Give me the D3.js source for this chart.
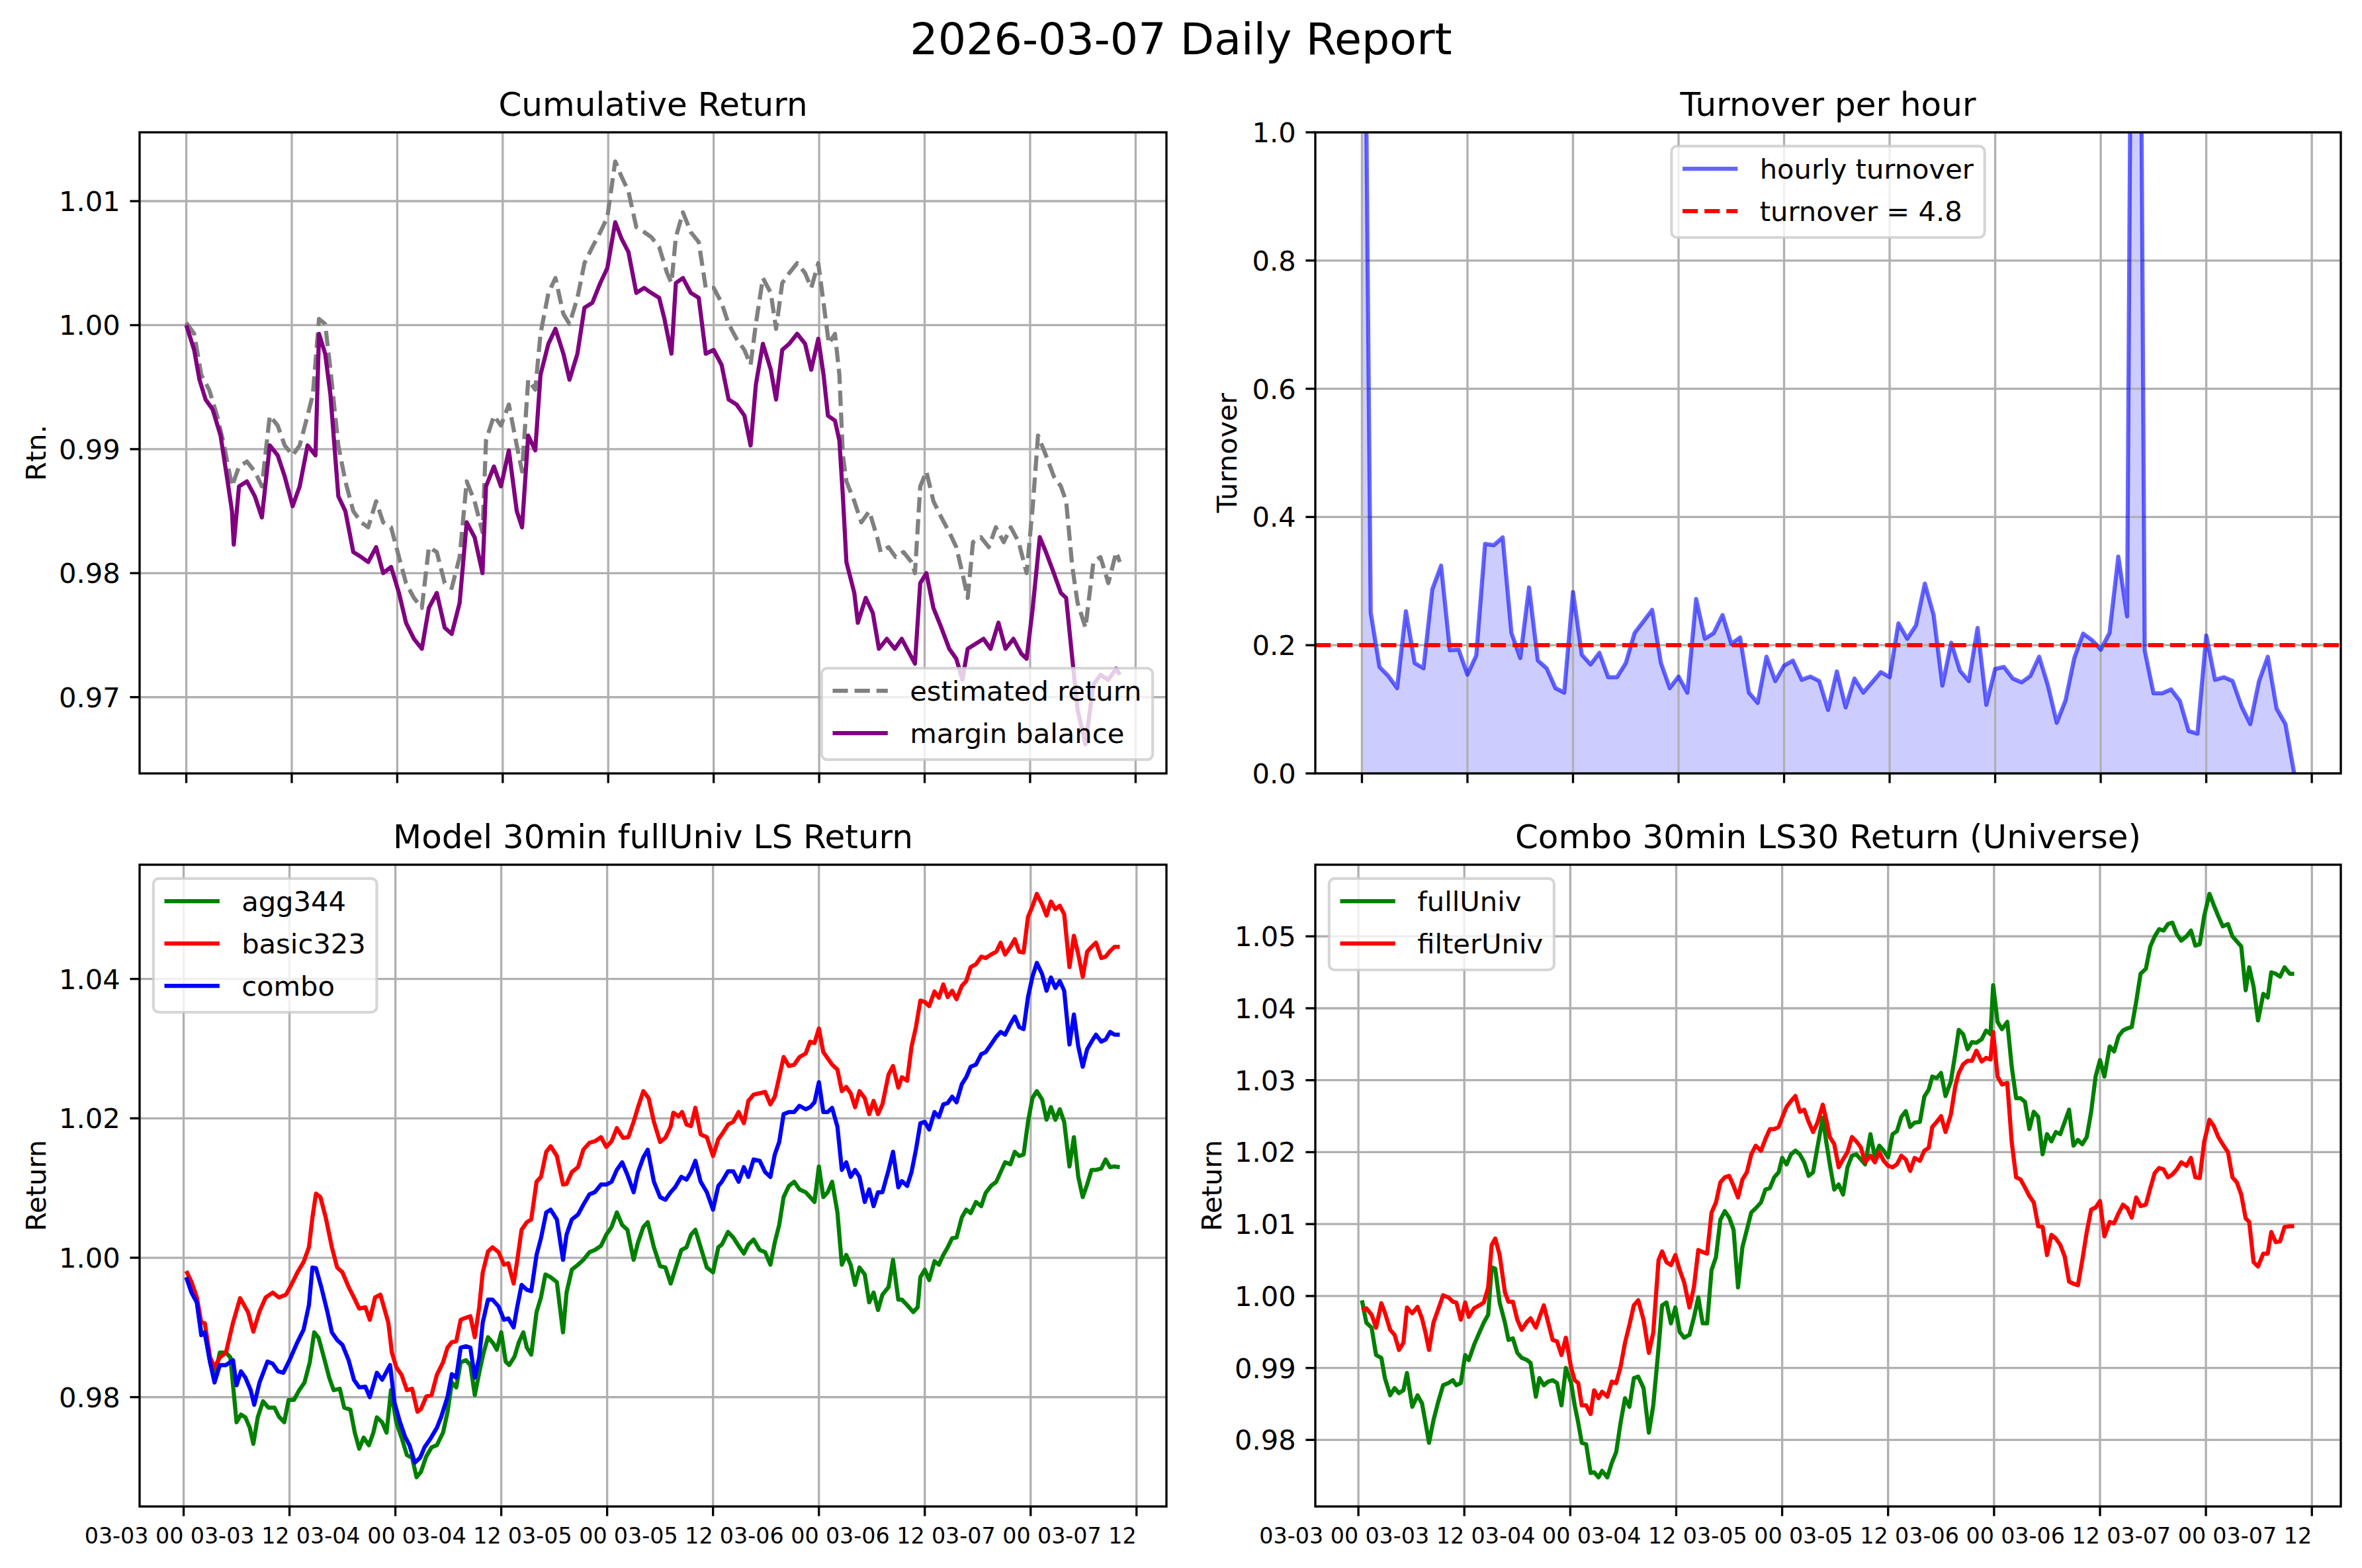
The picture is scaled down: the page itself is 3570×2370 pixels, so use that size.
<!DOCTYPE html>
<html>
  <head>
    <meta charset="utf-8">
    <title>2026-03-07 Daily Report</title>
    <script src="https://d3js.org/d3.v7.min.js"></script>
    <style>
      body { margin: 0; background: #fff; }
      text { font-family: "DejaVu Sans", sans-serif; fill: #000; }
    </style>
  </head>
  <body>
    <svg id="chart"></svg>
    <script>
      // ---------- data (time = hours since startTime) ----------
      const startTime = "2026-03-03 00:00";
      const xTickLabels = ["03-03 00", "03-03 12", "03-04 00", "03-04 12", "03-05 00",
                           "03-05 12", "03-06 00", "03-06 12", "03-07 00", "03-07 12"];

      // cumulative return panel
      const estReturn = [
        [0,1.0002],[0.9,0.9993],[1.7,0.996],[2.6,0.9948],[3.5,0.9927],[4.3,0.9903],[5.2,0.987],[6.0,0.9886],
        [6.9,0.989],[7.8,0.9882],[8.6,0.987],[9.5,0.9927],[10.4,0.9919],[11.2,0.9903],[12.1,0.9895],[12.9,0.9903],
        [13.8,0.9927],[14.4,0.9944],[15.1,1.0005],[15.8,1.0001],[16.4,0.9964],[17.3,0.9903],[18.1,0.9874],[19.0,0.985],
        [19.9,0.9841],[20.7,0.9837],[21.6,0.9858],[22.4,0.9841],[23.3,0.9837],[24.2,0.9813],[25.0,0.9792],[25.9,0.978],
        [26.8,0.9772],[27.6,0.9821],[28.5,0.9817],[29.4,0.9792],[30.2,0.9788],[31.1,0.9813],[31.9,0.9874],[32.8,0.9858],
        [33.7,0.9833],[34.1,0.9907],[35.0,0.9927],[35.8,0.9919],[36.7,0.9936],[37.6,0.9903],[38.2,0.9882],[38.9,0.9956],
        [39.7,0.9948],[40.3,0.9993],[41.2,1.0026],[42.0,1.0038],[42.9,1.0009],[43.6,1.0001],[44.5,1.0022],[45.3,1.005],
        [46.2,1.0063],[47.1,1.0075],[47.9,1.0087],[48.8,1.0132],[49.5,1.012],[50.3,1.0108],[51.2,1.0079],[52.1,1.0075],
        [52.9,1.0071],[53.8,1.0063],[54.7,1.0042],[55.2,1.0034],[55.7,1.0071],[56.5,1.0091],[57.4,1.0075],[58.3,1.0067],
        [59.1,1.003],[60.0,1.003],[60.9,1.0018],[61.7,1.0001],[62.6,0.9989],[63.5,0.998],[64.2,0.9968],[64.8,1.0001],
        [65.6,1.0038],[66.5,1.0026],[67.1,0.9997],[67.8,1.0034],[68.6,1.0042],[69.5,1.005],[70.4,1.0042],[71.1,1.003],
        [71.9,1.005],[72.5,1.0018],[73.1,0.9985],[73.8,0.9993],[74.3,0.996],[74.7,0.9895],[75.1,0.9874],[76.0,0.9858],
        [76.8,0.9841],[77.7,0.985],[78.6,0.9829],[79.0,0.9817],[79.9,0.9821],[80.7,0.9813],[81.6,0.9817],[82.5,0.9809],
        [82.9,0.98],[83.5,0.987],[84.2,0.9882],[85.0,0.9858],[85.9,0.9845],[86.8,0.9833],[87.6,0.9821],[88.3,0.98],
        [88.9,0.978],[89.5,0.9825],[90.4,0.9829],[91.3,0.9821],[92.1,0.9837],[93.0,0.9825],[93.8,0.9837],[94.7,0.9825],
        [95.6,0.98],[96.3,0.9854],[96.9,0.9911],[97.8,0.9895],[98.7,0.9878],[99.5,0.987],[100.1,0.9858],[100.8,0.9805],
        [101.4,0.9776],[102.3,0.9756],[103.2,0.9809],[104.0,0.9813],[104.9,0.9792],[105.8,0.9817],[106.2,0.9809]
      ];
      const marginBalance = [
        [0,1.0],[0.9,0.998],[1.5,0.9956],[2.2,0.994],[3.0,0.9932],[3.9,0.9911],[4.7,0.9874],[5.2,0.985],
        [5.4,0.9823],[6.0,0.987],[6.9,0.9874],[7.8,0.9862],[8.6,0.9845],[9.5,0.9903],[10.4,0.9895],[11.2,0.9878],
        [12.1,0.9854],[12.9,0.987],[13.8,0.9903],[14.7,0.9895],[15.1,0.9993],[15.8,0.9977],[16.4,0.9944],[17.3,0.9862],
        [18.1,0.985],[19.0,0.9817],[19.9,0.9813],[20.7,0.9809],[21.6,0.9821],[22.4,0.98],[23.3,0.9805],[24.2,0.9784],
        [25.0,0.976],[25.9,0.9747],[26.8,0.9739],[27.6,0.9772],[28.5,0.9784],[29.4,0.9756],[30.2,0.9751],[31.1,0.9776],
        [31.9,0.9841],[32.8,0.9829],[33.7,0.98],[34.1,0.987],[35.0,0.9886],[35.8,0.987],[36.7,0.9899],[37.6,0.985],
        [38.2,0.9837],[38.9,0.9911],[39.7,0.9899],[40.3,0.996],[41.2,0.9985],[42.0,0.9997],[42.9,0.9977],[43.6,0.9956],
        [44.5,0.9977],[45.3,1.0014],[46.2,1.0018],[47.1,1.0034],[47.9,1.0046],[48.8,1.0083],[49.5,1.007],[50.3,1.0059],
        [51.2,1.0026],[52.1,1.003],[52.9,1.0026],[53.8,1.0022],[54.4,1.0005],[55.2,0.9977],[55.7,1.0034],[56.5,1.0038],
        [57.4,1.0026],[58.3,1.0022],[59.1,0.9977],[60.0,0.998],[60.9,0.9968],[61.7,0.994],[62.6,0.9936],[63.5,0.9927],
        [64.2,0.9903],[64.8,0.9952],[65.6,0.9985],[66.5,0.9964],[67.1,0.994],[67.8,0.998],[68.6,0.9985],[69.5,0.9993],
        [70.4,0.9985],[71.1,0.9964],[71.9,0.9989],[72.5,0.996],[73.0,0.9927],[73.8,0.9923],[74.3,0.9907],[74.7,0.9862],
        [75.1,0.9809],[76.0,0.9784],[76.4,0.976],[77.3,0.978],[78.1,0.9768],[78.8,0.9739],[79.7,0.9747],[80.6,0.9739],
        [81.4,0.9747],[82.3,0.9735],[82.9,0.9727],[83.5,0.9792],[84.2,0.98],[85.0,0.9772],[85.9,0.9756],[86.8,0.9739],
        [87.6,0.9731],[88.3,0.9714],[88.9,0.9739],[89.8,0.9743],[90.7,0.9747],[91.5,0.9739],[92.4,0.976],[93.2,0.9739],
        [94.1,0.9747],[95.0,0.9735],[95.6,0.9731],[96.3,0.9772],[97.1,0.9829],[97.8,0.9817],[98.7,0.98],[99.5,0.9784],
        [100.1,0.978],[100.8,0.9731],[101.4,0.969],[102.3,0.9662],[103.2,0.971],[104.0,0.9718],[104.9,0.9714],
        [105.8,0.9723],[106.2,0.9718]
      ];

      // turnover panel: one value per hour from startTime
      const hourlyTurnover = [
        1.8, 0.251, 0.166, 0.152, 0.133, 0.253, 0.172, 0.164, 0.287, 0.324,
        0.192, 0.193, 0.154, 0.184, 0.358, 0.356, 0.368, 0.219, 0.180, 0.290,
        0.176, 0.164, 0.133, 0.126, 0.283, 0.185, 0.170, 0.188, 0.150, 0.150,
        0.172, 0.219, 0.237, 0.255, 0.172, 0.133, 0.151, 0.126, 0.272, 0.210,
        0.219, 0.247, 0.202, 0.212, 0.126, 0.110, 0.182, 0.144, 0.168, 0.176,
        0.146, 0.151, 0.144, 0.099, 0.159, 0.103, 0.148, 0.126, 0.142, 0.158,
        0.150, 0.234, 0.210, 0.231, 0.296, 0.247, 0.137, 0.204, 0.160, 0.144,
        0.227, 0.107, 0.163, 0.166, 0.148, 0.142, 0.152, 0.182, 0.137, 0.079,
        0.114, 0.180, 0.218, 0.208, 0.193, 0.219, 0.338, 0.245, 2.5, 0.192,
        0.125, 0.125, 0.131, 0.113, 0.066, 0.062, 0.215, 0.146, 0.150, 0.144,
        0.105, 0.077, 0.144, 0.182, 0.101, 0.077, 0.0
      ];
      const turnoverLine = 0.2;
      const turnoverLabel = "turnover = 4.8";

      // model 30min panel
      const agg344 = [
        [0.3,0.9972],[0.9,0.995],[1.5,0.9936],[2.0,0.9893],[2.4,0.9891],[3.0,0.985],[3.5,0.9828],[4.1,0.9864],
        [4.8,0.9864],[5.3,0.9857],[6.0,0.9764],[6.5,0.9775],[7.0,0.9771],[7.5,0.9756],[7.9,0.9733],[8.4,0.9771],
        [9.0,0.9794],[9.6,0.9785],[10.3,0.9785],[10.8,0.9772],[11.4,0.9764],[11.9,0.9796],[12.5,0.9796],[13.1,0.981],
        [13.7,0.9821],[14.3,0.985],[14.8,0.9893],[15.3,0.9885],[15.9,0.9857],[16.5,0.9828],[17.0,0.981],[17.7,0.9812],
        [18.2,0.9785],[18.9,0.9782],[19.4,0.9749],[19.9,0.9726],[20.4,0.9742],[21.0,0.9731],[21.5,0.9749],[21.9,0.9771],
        [22.5,0.9764],[23.0,0.9749],[23.5,0.981],[24.1,0.9764],[24.7,0.9742],[25.3,0.9717],[25.9,0.9713],[26.4,0.9685],
        [26.9,0.9693],[27.5,0.9715],[28.1,0.9728],[28.7,0.9731],[29.4,0.9749],[29.9,0.9778],[30.4,0.9821],[30.9,0.9814],
        [31.4,0.985],[32.0,0.9853],[32.5,0.9846],[33.0,0.9803],[33.5,0.9835],[34.0,0.9864],[34.5,0.9886],[35.1,0.9877],
        [35.5,0.9868],[36.0,0.9893],[36.5,0.9851],[36.9,0.9846],[37.5,0.9858],[38.0,0.9879],[38.5,0.9893],[38.9,0.9871],
        [39.4,0.9861],[40.0,0.9922],[40.5,0.9943],[41.0,0.9976],[41.6,0.9972],[42.3,0.9965],[43.0,0.9893],[43.4,0.995],
        [44.0,0.9983],[44.7,0.999],[45.3,0.9997],[46.0,1.0008],[46.6,1.0011],[47.3,1.0017],[47.9,1.0033],[48.5,1.0044],
        [49.1,1.0065],[49.7,1.0047],[50.3,1.004],[51.0,0.9997],[51.5,1.0022],[52.1,1.0044],[52.6,1.0051],[53.3,1.0015],
        [54.0,0.9988],[54.6,0.9986],[55.2,0.9963],[55.7,0.9983],[56.4,1.0011],[57.0,1.0015],[57.5,1.0033],[58.0,1.004],
        [58.6,1.0015],[59.3,0.9986],[60.0,0.9979],[60.6,1.0015],[61.0,1.0019],[61.7,1.0037],[62.3,1.0029],[62.9,1.0017],
        [63.5,1.0006],[64.0,1.0019],[64.6,1.0026],[65.3,1.0011],[65.9,1.0008],[66.5,0.999],[67.0,1.0022],[67.5,1.0047],
        [68.0,1.0087],[68.6,1.0103],[69.2,1.0109],[69.8,1.0098],[70.5,1.0094],[71.0,1.0087],[71.5,1.008],[72.0,1.0131],
        [72.5,1.0087],[73.0,1.0094],[73.5,1.0109],[74.1,1.0065],[74.6,0.999],[75.1,1.0004],[75.6,0.999],[76.1,0.9961],
        [76.6,0.9986],[77.2,0.9976],[77.7,0.9936],[78.2,0.995],[78.7,0.9925],[79.2,0.9947],[79.9,0.9958],[80.4,0.9997],
        [81.0,0.994],[81.4,0.994],[82.0,0.9932],[82.7,0.9922],[83.2,0.9929],[83.5,0.9972],[84.0,0.9983],[84.5,0.9968],
        [85.1,0.9995],[85.6,0.999],[86.1,1.0004],[86.6,1.0015],[87.1,1.0028],[87.6,1.0029],[88.2,1.0058],[88.7,1.0069],
        [89.2,1.0064],[89.8,1.008],[90.4,1.0074],[90.9,1.0093],[91.5,1.0103],[92.1,1.0109],[92.6,1.0123],[93.1,1.0137],
        [93.7,1.0134],[94.2,1.0152],[94.7,1.0146],[95.2,1.0148],[95.7,1.0195],[96.2,1.0229],[96.7,1.0239],[97.3,1.0227],
        [97.8,1.0198],[98.3,1.0216],[98.8,1.0198],[99.3,1.0213],[99.8,1.0195],[100.4,1.0131],[100.9,1.0173],[101.4,1.0116],
        [101.9,1.0087],[102.4,1.0105],[102.9,1.0126],[103.4,1.0126],[104.0,1.0128],[104.5,1.0141],[105.0,1.013],
        [105.5,1.0131],[106.1,1.013]
      ];
      const basic323 = [
        [0.3,0.9981],[0.9,0.9965],[1.5,0.9943],[2.0,0.9907],[2.4,0.9906],[3.0,0.9857],[3.5,0.9843],[4.1,0.9857],
        [4.8,0.9864],[5.6,0.9907],[6.4,0.9942],[7.3,0.9922],[7.9,0.9894],[8.6,0.9923],[9.3,0.9943],[10.1,0.995],
        [10.8,0.9943],[11.6,0.9947],[12.2,0.9961],[12.9,0.9979],[13.6,0.9994],[14.2,1.0015],[14.6,1.0058],[15.0,1.0092],
        [15.5,1.0087],[16.1,1.0058],[16.8,1.0015],[17.4,0.9986],[18.0,0.9979],[18.7,0.9958],[19.3,0.9943],[19.9,0.9927],
        [20.6,0.9929],[21.1,0.9911],[21.7,0.9943],[22.3,0.9947],[23.2,0.9907],[23.6,0.9864],[24.1,0.9843],[24.7,0.9832],
        [25.3,0.981],[25.9,0.9812],[26.5,0.9779],[26.9,0.9783],[27.5,0.9801],[28.1,0.9803],[28.7,0.9832],[29.4,0.985],
        [29.9,0.9871],[30.4,0.9879],[30.9,0.988],[31.4,0.9911],[32.0,0.9914],[32.5,0.9916],[33.0,0.9886],[33.5,0.9929],
        [33.9,0.9979],[34.5,1.0009],[35.0,1.0015],[35.7,1.0008],[36.3,0.999],[36.8,0.9992],[37.4,0.9963],[37.8,0.9995],
        [38.3,1.004],[38.9,1.0051],[39.4,1.0055],[40.0,1.0109],[40.5,1.0116],[41.1,1.0152],[41.6,1.016],[42.3,1.0146],
        [43.0,1.0105],[43.4,1.0106],[44.0,1.0123],[44.7,1.013],[45.3,1.0155],[46.0,1.0165],[46.6,1.0167],[47.3,1.0173],
        [47.9,1.0159],[48.5,1.0167],[49.1,1.0186],[49.8,1.0172],[50.4,1.0173],[51.0,1.0195],[51.5,1.0216],[52.1,1.0239],
        [52.7,1.0229],[53.3,1.0195],[54.0,1.0166],[54.6,1.0172],[55.2,1.0188],[55.5,1.0208],[56.1,1.0203],[56.5,1.0209],
        [57.0,1.0191],[57.5,1.0189],[58.0,1.0215],[58.6,1.0177],[59.3,1.0173],[60.0,1.0146],[60.6,1.017],[61.0,1.0177],
        [61.7,1.0191],[62.3,1.0195],[62.9,1.0209],[63.5,1.0193],[64.0,1.0225],[64.6,1.0234],[65.3,1.0236],[65.9,1.0238],
        [66.5,1.022],[67.0,1.0231],[67.5,1.0259],[68.0,1.0288],[68.6,1.0275],[69.2,1.0277],[69.8,1.0288],[70.5,1.0293],
        [71.0,1.031],[71.5,1.0308],[72.0,1.0329],[72.5,1.0295],[73.0,1.0286],[73.5,1.0277],[74.1,1.027],[74.6,1.0239],
        [75.1,1.0245],[75.6,1.0236],[76.1,1.0216],[76.6,1.0239],[77.2,1.0229],[77.7,1.0206],[78.2,1.0225],[78.7,1.0206],
        [79.2,1.022],[79.9,1.0263],[80.4,1.0275],[81.0,1.0244],[81.4,1.0259],[82.0,1.0254],[82.5,1.0303],[83.0,1.0331],
        [83.5,1.0369],[84.0,1.0367],[84.5,1.0361],[85.1,1.0382],[85.6,1.0373],[86.1,1.0392],[86.6,1.0374],[87.1,1.0383],
        [87.6,1.0371],[88.2,1.039],[88.7,1.0397],[89.2,1.0417],[89.8,1.0421],[90.4,1.0432],[90.9,1.043],[91.5,1.0435],
        [92.1,1.0439],[92.6,1.0452],[93.1,1.0435],[93.7,1.0446],[94.2,1.0457],[94.7,1.0439],[95.2,1.0438],[95.7,1.0489],
        [96.2,1.0504],[96.7,1.0522],[97.3,1.0507],[97.8,1.0491],[98.3,1.0511],[98.8,1.05],[99.3,1.0505],[99.8,1.0493],
        [100.4,1.0417],[100.9,1.0462],[101.4,1.0435],[101.9,1.0403],[102.4,1.0439],[102.9,1.0446],[103.4,1.0452],
        [104.0,1.043],[104.5,1.0432],[105.0,1.044],[105.5,1.0446],[106.1,1.0446]
      ];
      const combo = [
        [0.3,0.9972],[0.9,0.995],[1.5,0.9936],[2.0,0.9889],[2.4,0.9893],[3.0,0.985],[3.5,0.9821],[4.1,0.9846],
        [4.8,0.9846],[5.6,0.9853],[6.0,0.9817],[6.5,0.9837],[7.0,0.9828],[7.6,0.981],[8.0,0.9789],[8.6,0.9821],
        [9.5,0.9851],[10.1,0.9848],[10.7,0.9837],[11.3,0.9835],[12.0,0.9853],[12.9,0.9879],[13.6,0.9897],[14.2,0.9932],
        [14.6,0.9986],[15.0,0.9985],[15.6,0.9958],[16.3,0.9922],[16.8,0.9893],[17.4,0.9882],[18.0,0.9875],[18.7,0.9853],
        [19.3,0.9825],[19.9,0.9814],[20.6,0.9815],[21.1,0.98],[21.9,0.9835],[22.5,0.9825],[23.4,0.9846],[23.9,0.9792],
        [24.5,0.9765],[25.1,0.9743],[25.6,0.9731],[26.2,0.9706],[26.8,0.9713],[27.3,0.9728],[28.0,0.9741],[28.7,0.9756],
        [29.2,0.9772],[29.9,0.98],[30.4,0.9833],[30.9,0.9828],[31.4,0.9871],[32.0,0.9873],[32.5,0.9871],[33.0,0.9828],
        [33.5,0.9857],[33.9,0.9907],[34.5,0.994],[35.0,0.994],[35.7,0.993],[36.3,0.9911],[36.8,0.9913],[37.4,0.99],
        [37.8,0.9929],[38.3,0.9961],[38.9,0.9954],[39.4,0.9952],[40.0,1.0004],[40.5,1.0028],[41.1,1.0065],[41.6,1.0069],
        [42.3,1.0055],[43.0,0.9997],[43.4,1.0033],[44.0,1.0055],[44.7,1.0062],[45.3,1.0076],[46.0,1.0091],[46.6,1.0094],
        [47.3,1.0105],[47.9,1.0105],[48.5,1.0109],[49.1,1.0126],[49.7,1.0137],[50.3,1.0119],[51.0,1.0094],[51.5,1.0123],
        [52.1,1.0144],[52.6,1.0155],[53.3,1.0109],[54.0,1.0087],[54.6,1.0083],[55.2,1.0094],[55.7,1.0101],[56.4,1.0116],
        [57.0,1.0112],[57.5,1.0123],[58.0,1.0139],[58.6,1.0109],[59.3,1.0094],[60.0,1.0069],[60.6,1.0103],[61.0,1.0109],
        [61.7,1.0124],[62.3,1.0124],[62.9,1.0109],[63.5,1.013],[64.0,1.0116],[64.6,1.0141],[65.3,1.0139],[65.9,1.0123],
        [66.5,1.0116],[67.0,1.0148],[67.5,1.0166],[68.0,1.0206],[68.6,1.0209],[69.2,1.0209],[69.8,1.0218],[70.5,1.0213],
        [71.0,1.0216],[71.5,1.0223],[72.0,1.0252],[72.5,1.0209],[73.0,1.0209],[73.5,1.0215],[74.1,1.0188],[74.6,1.0126],
        [75.1,1.0137],[75.6,1.0116],[76.1,1.0126],[76.6,1.0116],[77.2,1.008],[77.7,1.0098],[78.2,1.0074],[78.7,1.0094],
        [79.2,1.0094],[79.9,1.0126],[80.4,1.0152],[81.0,1.0101],[81.4,1.011],[82.0,1.0103],[82.5,1.0123],[83.0,1.0155],
        [83.5,1.0193],[84.0,1.0195],[84.5,1.0184],[85.1,1.0209],[85.6,1.0202],[86.1,1.022],[86.6,1.0222],[87.1,1.0231],
        [87.6,1.0223],[88.2,1.0249],[88.7,1.0259],[89.2,1.0274],[89.8,1.0277],[90.4,1.0292],[90.9,1.0295],[91.5,1.0306],
        [92.1,1.0317],[92.6,1.0324],[93.1,1.032],[93.7,1.0335],[94.2,1.0346],[94.7,1.0331],[95.2,1.0328],[95.7,1.0374],
        [96.2,1.0403],[96.7,1.0423],[97.3,1.0407],[97.8,1.0383],[98.3,1.0402],[98.8,1.0387],[99.3,1.0397],[99.8,1.0383],
        [100.4,1.0306],[100.9,1.0349],[101.4,1.0303],[101.9,1.0274],[102.4,1.0299],[102.9,1.031],[103.4,1.032],
        [104.0,1.031],[104.5,1.0313],[105.0,1.0324],[105.5,1.032],[106.1,1.032]
      ];

      // universe panel: shared times, then one value per time for each series
      const univHours = [
        0.4,0.9,1.5,2.0,2.6,3.0,3.6,4.1,4.6,5.1,5.5,6.1,6.7,7.2,7.6,8.0,8.5,9.0,9.6,10.2,
        10.7,11.1,11.6,12.1,12.5,13.1,13.7,14.2,14.7,15.1,15.5,16.0,16.6,17.0,17.5,18.0,18.5,19.1,19.5,20.1,
        20.5,21.0,21.5,22.0,22.5,23.0,23.5,24.1,24.5,24.9,25.3,25.8,26.3,26.7,27.2,27.6,28.2,28.7,29.2,29.7,
        30.2,30.7,31.2,31.7,32.3,32.9,33.4,34.0,34.4,34.9,35.4,35.9,36.4,36.9,37.5,38.0,38.5,39.0,39.5,40.0,
        40.5,41.0,41.5,42.0,42.5,43.0,43.5,44.0,44.5,45.0,45.6,46.1,46.6,47.1,47.6,48.0,48.5,49.0,49.5,50.0,
        50.5,51.0,51.5,52.0,52.6,53.0,53.4,53.9,54.4,54.9,55.4,55.9,56.4,56.9,57.4,58.0,58.5,59.0,59.5,60.0,
        60.5,61.0,61.5,62.0,62.5,63.0,63.6,64.1,64.6,65.0,65.5,66.0,66.5,67.1,67.6,68.0,68.5,69.0,69.5,70.0,
        70.6,71.1,71.6,71.9,72.4,72.9,73.5,74.0,74.5,75.0,75.5,76.0,76.5,77.0,77.5,78.0,78.5,79.0,79.5,80.0,
        80.5,81.0,81.5,82.0,82.5,83.0,83.5,84.0,84.5,85.1,85.6,86.1,86.6,87.1,87.6,88.1,88.6,89.2,89.7,90.2,
        90.7,91.2,91.7,92.2,92.7,93.2,93.8,94.3,94.8,95.3,95.8,96.4,96.9,97.4,97.9,98.5,99.0,99.5,100.0,100.5,
        100.9,101.4,101.9,102.5,103.0,103.4,103.9,104.4,104.9,105.5,106.0
      ];
      const fullUniv = [
        0.9994,0.9963,0.9956,0.9918,0.9914,0.9886,0.9862,0.9872,0.9865,0.9869,0.9893,0.9846,0.9862,0.9851,0.9824,0.9796,0.9827,0.9851,0.9876,0.9879,
        0.9883,0.9876,0.9879,0.9918,0.9911,0.9932,0.9949,0.9963,0.9974,1.004,1.0038,0.9991,0.9963,0.9939,0.9941,0.9921,0.9914,0.9911,0.9907,0.986,
        0.9886,0.9876,0.9881,0.9883,0.9879,0.9848,0.99,0.9879,0.9848,0.9824,0.9796,0.9794,0.9754,0.9755,0.9748,0.9757,0.9748,0.9768,0.9783,0.9824,
        0.9858,0.9846,0.9886,0.9888,0.9872,0.981,0.9848,0.9928,0.9987,0.9991,0.9962,0.9984,0.995,0.9942,0.9946,0.997,0.9998,0.9962,0.9962,1.0036,
        1.0054,1.0106,1.0118,1.0109,1.0092,1.0012,1.0068,1.0092,1.0116,1.0122,1.013,1.0148,1.015,1.0165,1.0172,1.0192,1.0183,1.0197,1.0202,1.0197,
        1.0186,1.0167,1.0172,1.0207,1.0248,1.0214,1.0183,1.0148,1.0155,1.0141,1.0179,1.0195,1.0197,1.019,1.0183,1.0225,1.0193,1.0209,1.0202,1.0193,
        1.0225,1.0229,1.0249,1.0257,1.0235,1.0241,1.0242,1.0277,1.0287,1.0305,1.0303,1.031,1.0278,1.0298,1.0336,1.037,1.0364,1.0343,1.0353,1.0352,
        1.0357,1.0369,1.0364,1.0432,1.0381,1.0371,1.0381,1.0319,1.0275,1.0275,1.027,1.0232,1.0256,1.0249,1.0197,1.0225,1.0215,1.0228,1.0225,1.0242,
        1.0259,1.0209,1.0217,1.0211,1.0221,1.0256,1.0305,1.0328,1.0305,1.0347,1.034,1.0361,1.0369,1.0372,1.0374,1.0409,1.0448,1.0455,1.0486,1.05,
        1.051,1.0508,1.0517,1.0519,1.0503,1.0494,1.05,1.0508,1.0487,1.0489,1.0528,1.0559,1.0543,1.0528,1.0514,1.0517,1.05,1.0493,1.0486,1.0425,
        1.0457,1.043,1.0383,1.042,1.0415,1.045,1.0448,1.0444,1.0457,1.0448,1.0448
      ];
      const filterUniv = [
        0.998,0.9983,0.9974,0.9956,0.999,0.9977,0.9953,0.9946,0.9925,0.9935,0.9984,0.9976,0.9985,0.9969,0.9949,0.9925,0.9963,0.998,1.0001,0.9998,
        0.9992,0.9991,0.9967,0.9991,0.9971,0.9983,0.9987,0.9991,1.0012,1.0071,1.008,1.0057,1.0005,0.9992,0.9992,0.9967,0.9953,0.9964,0.9969,0.9956,
        0.997,0.9987,0.9963,0.9939,0.9937,0.9918,0.9942,0.99,0.9883,0.9879,0.9848,0.9848,0.9836,0.9869,0.9858,0.9867,0.986,0.9881,0.9879,0.9902,
        0.9935,0.996,0.9987,0.9994,0.9967,0.9921,0.9949,1.005,1.0062,1.0047,1.0043,1.0057,1.0036,1.0019,0.9984,1.0012,1.0064,1.0061,1.0059,1.0116,
        1.013,1.0158,1.0165,1.0167,1.0153,1.0137,1.0162,1.0172,1.0197,1.0209,1.0202,1.0218,1.0232,1.0232,1.0235,1.0248,1.0263,1.0271,1.0278,1.0256,
        1.0259,1.0242,1.0228,1.0241,1.0266,1.0245,1.0221,1.0211,1.0179,1.019,1.02,1.0221,1.0215,1.0207,1.0186,1.0195,1.0186,1.02,1.0188,1.0181,
        1.0179,1.0183,1.0195,1.019,1.0174,1.0192,1.0188,1.0202,1.0206,1.0235,1.0242,1.025,1.0228,1.0252,1.0291,1.031,1.0322,1.0327,1.0327,1.0341,
        1.0326,1.0331,1.0329,1.0367,1.0305,1.0294,1.0296,1.0214,1.0165,1.0162,1.0151,1.0139,1.013,1.0097,1.0096,1.0057,1.0085,1.008,1.0071,1.0055,
        1.002,1.0017,1.0015,1.005,1.0089,1.012,1.0123,1.0132,1.0083,1.0103,1.0101,1.0115,1.0127,1.0122,1.0109,1.0137,1.0125,1.0127,1.015,1.0171,
        1.0178,1.0176,1.0165,1.0169,1.0176,1.0186,1.0181,1.0192,1.0165,1.0164,1.0214,1.0245,1.0236,1.0221,1.0211,1.02,1.0165,1.0158,1.0141,1.0108,
        1.0103,1.0047,1.0041,1.0059,1.0059,1.0089,1.0075,1.0076,1.0096,1.0097,1.0097
      ];

      const tlYTicks = [0.97, 0.98, 0.99, 1.00, 1.01];
      const trYTicks = [0.0, 0.2, 0.4, 0.6, 0.8, 1.0];
      const blYTicks = [0.98, 1.00, 1.02, 1.04];
      const brYTicks = [0.98, 0.99, 1.00, 1.01, 1.02, 1.03, 1.04, 1.05];

      // ---------- drawing ----------
      const W = 3570, H = 2370, PT = 300 / 72;
      const FS = 10 * PT, LW = 1.5 * PT, SPINE = 0.8 * PT, TICK = 3.5 * PT;
      const DASH = [3.7 * LW, 1.6 * LW].join(",");

      const svg = d3.select("#chart").attr("width", W).attr("height", H);
      svg.append("rect").attr("width", W).attr("height", H).attr("fill", "#fff");

      const t0 = d3.timeParse("%Y-%m-%d %H:%M")(startTime);
      const toDate = h => new Date(t0.getTime() + h * 36e5);
      const tickDates = xTickLabels.map(s => d3.timeParse("%Y-%m-%d %H")("2026-" + s));
      const padded = ext => { const s = ext[1] - ext[0]; return [ext[0] - 0.05 * s, ext[1] + 0.05 * s]; };

      function legend(g, items, loc, box) {
        const pad = 0.4 * FS, hl = 2 * FS, htp = 0.8 * FS, ax = 0.5 * FS;
        const lg = g.append("g");
        const frame = lg.append("rect");
        const labels = items.map(it => lg.append("text").attr("font-size", FS).text(it.label));
        const tw = d3.max(labels, t => t.node().getComputedTextLength());
        const w = 2 * pad + hl + htp + tw;
        const h = 1.78 * FS + (items.length - 1) * 1.536 * FS;
        let lx, ly;
        if (loc === "upper left") { lx = box.x0 + ax; ly = box.y0 + ax; }
        else if (loc === "upper center") { lx = box.x0 + box.w / 2 - w / 2; ly = box.y0 + ax; }
        else { lx = box.x0 + box.w - ax - w; ly = box.y0 + box.h - ax - h; }
        frame.attr("x", lx).attr("y", ly).attr("width", w).attr("height", h)
          .attr("rx", 0.2 * FS).attr("fill", "#fff").attr("fill-opacity", 0.8)
          .attr("stroke", "#cccccc").attr("stroke-opacity", 0.8).attr("stroke-width", PT);
        items.forEach((it, i) => {
          const cy = ly + 0.82 * FS + i * 1.536 * FS;
          lg.append("line").attr("x1", lx + pad).attr("x2", lx + pad + hl)
            .attr("y1", cy).attr("y2", cy)
            .attr("stroke", it.color).attr("stroke-opacity", it.opacity || 1)
            .attr("stroke-width", LW).attr("stroke-dasharray", it.dash ? DASH : null);
          labels[i].attr("x", lx + pad + hl + htp).attr("y", cy).attr("dy", "0.36em");
        });
      }

      function panel(cfg) {
        const box = cfg.box;
        const { x0, y0, w, h } = box;
        const g = svg.append("g");
        const allT = cfg.series.flatMap(s => s.data.map(d => d[0]));
        const allV = cfg.series.flatMap(s => s.data.map(d => d[1]));
        const xs = d3.scaleTime().domain(padded(d3.extent(allT)).map(toDate)).range([x0, x0 + w]);
        const ys = d3.scaleLinear().domain(cfg.yDomain || padded(d3.extent(allV))).range([y0 + h, y0]);
        const clipId = "clip" + cfg.id;
        g.append("clipPath").attr("id", clipId).append("rect")
          .attr("x", x0).attr("y", y0).attr("width", w).attr("height", h);
        const plot = g.append("g").attr("clip-path", `url(#${clipId})`);

        // fills first (below grid)
        cfg.series.filter(s => s.fill).forEach(s => {
          plot.append("path").datum(s.data)
            .attr("d", d3.area().x(d => xs(toDate(d[0]))).y0(ys(0)).y1(d => ys(d[1])))
            .attr("fill", s.fill).attr("fill-opacity", 0.2);
        });

        // grid
        const xt = tickDates.filter(d => d >= xs.domain()[0] && d <= xs.domain()[1]);
        const yd = ys.domain();
        const yt = cfg.yTicks.filter(v => v >= Math.min(...yd) - 1e-9 && v <= Math.max(...yd) + 1e-9);
        const grid = plot.append("g").attr("stroke", "#b0b0b0").attr("stroke-width", SPINE);
        xt.forEach(d => grid.append("line").attr("x1", xs(d)).attr("x2", xs(d)).attr("y1", y0).attr("y2", y0 + h));
        yt.forEach(v => grid.append("line").attr("y1", ys(v)).attr("y2", ys(v)).attr("x1", x0).attr("x2", x0 + w));

        // lines
        const line = d3.line().x(d => xs(toDate(d[0]))).y(d => ys(d[1]));
        cfg.series.forEach(s => {
          plot.append("path").datum(s.data).attr("d", line)
            .attr("fill", "none").attr("stroke", s.color).attr("stroke-opacity", s.opacity || 1)
            .attr("stroke-width", LW).attr("stroke-linejoin", "round")
            .attr("stroke-dasharray", s.dash ? DASH : null);
        });
        if (cfg.hline) {
          plot.append("line").attr("x1", x0).attr("x2", x0 + w)
            .attr("y1", ys(cfg.hline.value)).attr("y2", ys(cfg.hline.value))
            .attr("stroke", cfg.hline.color).attr("stroke-width", LW).attr("stroke-dasharray", DASH);
        }

        // spines and ticks
        g.append("rect").attr("x", x0).attr("y", y0).attr("width", w).attr("height", h)
          .attr("fill", "none").attr("stroke", "#000").attr("stroke-width", SPINE);
        xt.forEach(d => {
          g.append("line").attr("x1", xs(d)).attr("x2", xs(d)).attr("y1", y0 + h).attr("y2", y0 + h + TICK)
            .attr("stroke", "#000").attr("stroke-width", SPINE);
          if (cfg.xLabels) {
            // labels sit to the left of their tick (right-aligned)
            g.append("text").attr("x", xs(d)).attr("y", y0 + h + 56).attr("text-anchor", "end")
              .attr("font-size", 8 * PT).text(d3.timeFormat("%m-%d %H")(d));
          }
        });
        yt.forEach(v => {
          g.append("line").attr("x1", x0 - TICK).attr("x2", x0).attr("y1", ys(v)).attr("y2", ys(v))
            .attr("stroke", "#000").attr("stroke-width", SPINE);
          g.append("text").attr("x", x0 - 2 * TICK).attr("y", ys(v)).attr("dy", "0.36em")
            .attr("text-anchor", "end").attr("font-size", FS).text(d3.format(cfg.yFormat)(v));
        });

        // labels
        g.append("text").attr("x", x0 + w / 2).attr("y", y0 - 6 * PT).attr("text-anchor", "middle")
          .attr("font-size", 12 * PT).text(cfg.title);
        g.append("text").attr("transform", `translate(${x0 - cfg.ylabelOff},${y0 + h / 2}) rotate(-90)`)
          .attr("text-anchor", "middle").attr("font-size", FS).text(cfg.ylabel);

        legend(g, cfg.legendItems || cfg.series, cfg.legendLoc, box);
      }

      svg.append("text").attr("x", W / 2).attr("y", 82).attr("text-anchor", "middle")
        .attr("font-size", 16 * PT).text("2026-03-07 Daily Report");

      panel({
        id: "tl", box: { x0: 211, y0: 200, w: 1552, h: 969 },
        title: "Cumulative Return", ylabel: "Rtn.", ylabelOff: 142,
        yTicks: tlYTicks, yFormat: ".2f", xLabels: false, legendLoc: "lower right",
        series: [
          { data: estReturn, color: "gray", dash: true, label: "estimated return" },
          { data: marginBalance, color: "purple", label: "margin balance" }
        ]
      });

      const turnoverSeries = hourlyTurnover.map((v, i) => [i, v]);
      panel({
        id: "tr", box: { x0: 1988, y0: 200, w: 1550, h: 969 },
        title: "Turnover per hour", ylabel: "Turnover", ylabelOff: 119,
        yTicks: trYTicks, yFormat: ".1f", yDomain: [0, 1], xLabels: false, legendLoc: "upper center",
        series: [{ data: turnoverSeries, color: "blue", opacity: 0.6, fill: "blue", label: "hourly turnover" }],
        hline: { value: turnoverLine, color: "red" },
        legendItems: [
          { color: "blue", opacity: 0.6, label: "hourly turnover" },
          { color: "red", dash: true, label: turnoverLabel }
        ]
      });

      panel({
        id: "bl", box: { x0: 211, y0: 1307, w: 1552, h: 970 },
        title: "Model 30min fullUniv LS Return", ylabel: "Return", ylabelOff: 142,
        yTicks: blYTicks, yFormat: ".2f", xLabels: true, legendLoc: "upper left",
        series: [
          { data: agg344, color: "green", label: "agg344" },
          { data: basic323, color: "red", label: "basic323" },
          { data: combo, color: "blue", label: "combo" }
        ]
      });

      panel({
        id: "br", box: { x0: 1988, y0: 1307, w: 1550, h: 970 },
        title: "Combo 30min LS30 Return (Universe)", ylabel: "Return", ylabelOff: 142,
        yTicks: brYTicks, yFormat: ".2f", xLabels: true, legendLoc: "upper left",
        series: [
          { data: univHours.map((t, i) => [t, fullUniv[i]]), color: "green", label: "fullUniv" },
          { data: univHours.map((t, i) => [t, filterUniv[i]]), color: "red", label: "filterUniv" }
        ]
      });
    </script>
  </body>
</html>
